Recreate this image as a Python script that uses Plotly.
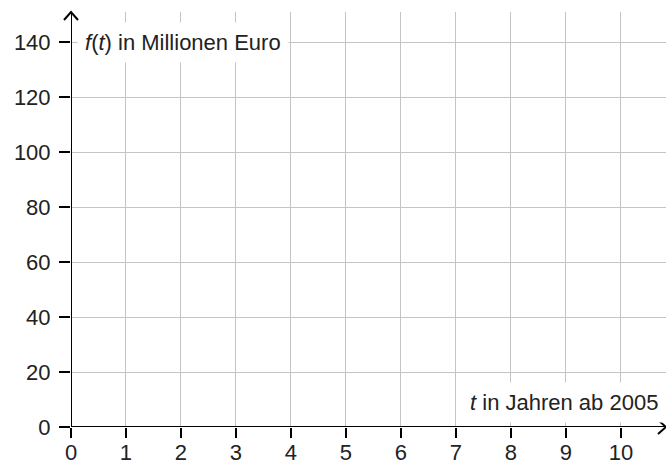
import plotly.graph_objects as go

x_ticks = [0, 1, 2, 3, 4, 5, 6, 7, 8, 9, 10]
y_ticks = [0, 20, 40, 60, 80, 100, 120, 140]
x_label = "<i>t</i> in Jahren ab 2005"
y_label = "<i>f</i>(<i>t</i>) in Millionen Euro"

X_MAX = 10.82
Y_MAX = 151
FONT = "Liberation Sans"
FS = 22
PX_X = 55.0          # pixels per x unit
PX_Y = 55.0 / 20.0   # pixels per y unit

fig = go.Figure()
fig.add_trace(go.Scatter(x=[0, X_MAX], y=[0, Y_MAX], mode="markers",
                         marker=dict(opacity=0), hoverinfo="skip", showlegend=False))

grid = "#c4c4c4"
fig.update_xaxes(range=[0, X_MAX], tickvals=x_ticks, ticktext=[str(v) for v in x_ticks],
                 showgrid=True, gridcolor=grid, gridwidth=1.2, zeroline=False, showline=False,
                 ticks="outside", ticklen=10, tickwidth=2, tickcolor="black", automargin=False,
                 ticklabelstandoff=-4,
                 tickfont=dict(family=FONT, size=FS, color="#222"), fixedrange=True)
fig.update_yaxes(range=[0, Y_MAX], tickvals=y_ticks, ticktext=[str(v) for v in y_ticks],
                 showgrid=True, gridcolor=grid, gridwidth=1.2, zeroline=False, showline=False,
                 ticks="outside", ticklen=11, tickwidth=2, tickcolor="black", automargin=False,
                 ticklabelstandoff=4,
                 tickfont=dict(family=FONT, size=FS, color="#222"), fixedrange=True)

# axis lines
fig.add_shape(type="line", x0=0, x1=X_MAX, y0=0, y1=0, line=dict(color="black", width=2), layer="above")
fig.add_shape(type="line", x0=0, x1=0, y0=0, y1=Y_MAX, line=dict(color="black", width=2), layer="above")
# arrowheads (open chevrons), in paper coordinates so they are not clipped
ax, ay = 8 / PX_X / X_MAX, 7 / PX_Y / Y_MAX
fig.add_shape(type="path", xref="paper", yref="paper",
              path=f"M {1-ax},{ay} L 1,0 L {1-ax},{-ay}",
              line=dict(color="black", width=2), layer="above")
bx, by = 7 / PX_X / X_MAX, 8 / PX_Y / Y_MAX
fig.add_shape(type="path", xref="paper", yref="paper",
              path=f"M {-bx},{1-by} L 0,1 L {bx},{1-by}",
              line=dict(color="black", width=2), layer="above")

fig.add_annotation(x=0, y=140, xref="x", yref="y", text=y_label, showarrow=False,
                   xanchor="left", yanchor="middle", xshift=6, bgcolor="white",
                   borderpad=7, font=dict(family=FONT, size=FS, color="#222"))
fig.add_annotation(x=X_MAX, y=9, xref="x", yref="y", text=x_label, showarrow=False,
                   xanchor="right", yanchor="middle", xshift=0, bgcolor="white",
                   borderpad=7, font=dict(family=FONT, size=FS, color="#222"))

fig.update_layout(width=666, height=462, margin=dict(l=71, r=0, t=12, b=35, autoexpand=False),
                  plot_bgcolor="white", paper_bgcolor="white", showlegend=False)
fig.update_traces(cliponaxis=False)
fig.write_html("out.html", config={"displayModeBar": False},
               post_script="document.body.style.margin='0';document.body.style.overflow='hidden';")
